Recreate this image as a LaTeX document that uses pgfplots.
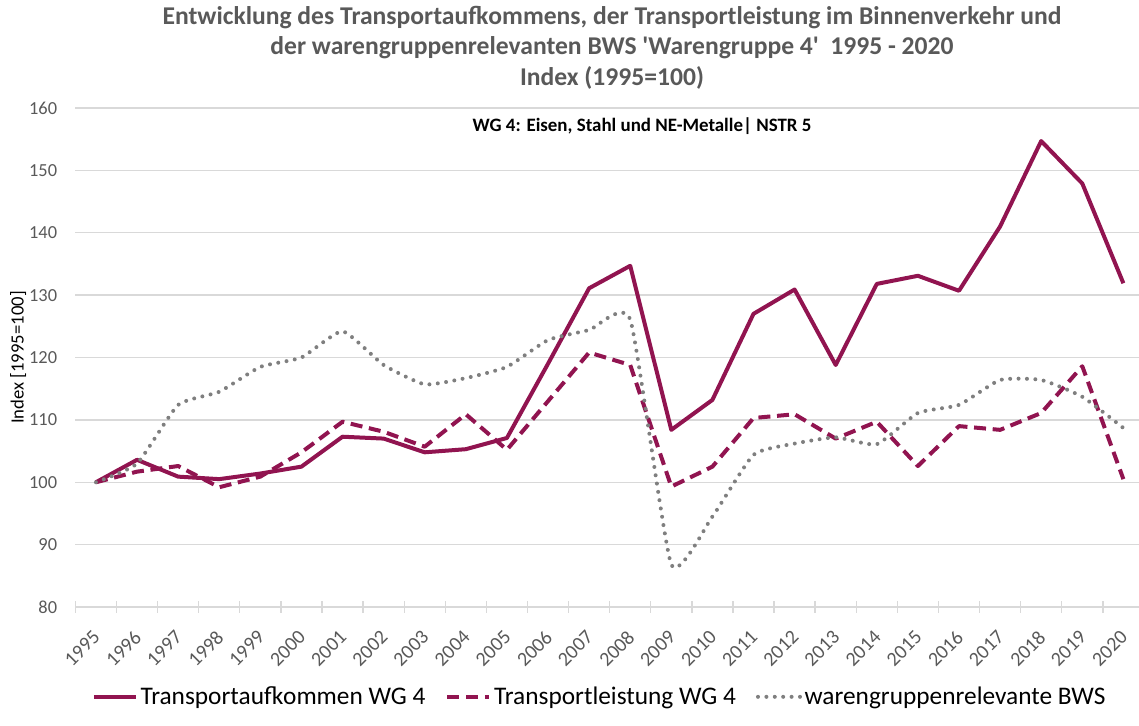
\documentclass[border=0pt]{standalone}
\usepackage{pgfplots}
\usepackage{pgfplotstable}
\pgfplotsset{compat=1.18}
\usepackage{fontspec}
\setmainfont{Carlito}
\definecolor{wine}{HTML}{911450}
\definecolor{dotgray}{HTML}{7F7F7F}
\definecolor{txtgray}{HTML}{595959}
\definecolor{gridgray}{HTML}{D9D9D9}

\pgfplotstableread{
x year aufk leist bws
0 1995 100.0 100.0 100.0
1 1996 103.6 101.7 103.0
2 1997 100.9 102.6 112.4
3 1998 100.5 99.2 114.5
4 1999 101.4 100.9 118.5
5 2000 102.5 104.8 120.0
6 2001 107.3 109.7 124.2
7 2002 107.0 108.1 118.8
8 2003 104.8 105.7 115.7
9 2004 105.3 110.9 116.7
10 2005 107.1 105.2 118.5
11 2006 119.0 113.0 122.8
12 2007 131.1 120.8 124.4
13 2008 134.7 118.8 126.1
14 2009 108.4 99.3 86.8
15 2010 113.2 102.5 94.5
16 2011 127.0 110.3 104.4
17 2012 130.9 110.9 106.2
18 2013 118.8 107.0 107.2
19 2014 131.8 109.7 106.1
20 2015 133.1 102.6 111.1
21 2016 130.7 109.0 112.4
22 2017 141.0 108.4 116.4
23 2018 154.7 111.1 116.4
24 2019 147.9 118.6 113.7
25 2020 131.9 100.5 108.7
}\datatable

\begin{document}
\begin{tikzpicture}
\begin{axis}[
  name=ax,
  at={(0,0)}, anchor=south west,
  scale only axis,
  width=798pt, height=374.25pt,
  xmin=-0.5, xmax=25.39,
  ymin=80, ymax=160,
  ytick={80,90,...,160},
  xtick={0,...,25},
  xticklabels={1995,1996,1997,1998,1999,2000,2001,2002,2003,2004,2005,2006,2007,2008,2009,2010,2011,2012,2013,2014,2015,2016,2017,2018,2019,2020},
  minor xtick={-0.5,0.5,...,24.5},
  tick pos=left,
  major tick length=0pt,
  minor tick length=8.6pt,
  xtick align=center,
  minor x tick style={gridgray, line width=1pt},
  ytick style={draw=none},
  axis line style={draw=none},
  ymajorgrids=true,
  major grid style={gridgray, line width=1.1pt},
  /pgf/number format/assume math mode=true,
  yticklabel style={font=\fontsize{13.8}{16}\selectfont, text=txtgray, inner sep=0pt, xshift=-13.5pt},
  xticklabel style={font=\fontsize{15}{17}\selectfont, text=txtgray, rotate=45, anchor=north east, inner sep=0pt, xshift=-13.8pt, yshift=-9.5pt},
  legend style={at={(0.493,-0.18)}, anchor=center, draw=none, fill=none,
    legend columns=3, font=\fontsize{19}{22}\selectfont,
    nodes={inner xsep=2pt, inner ysep=1pt},
    /tikz/every even column/.append style={column sep=13pt}},
  legend image code/.code={\draw[#1] (0pt,0pt) -- (31.5pt,0pt);},
]
\addplot[wine, line width=3pt, line join=round] table[x=x, y=aufk] {\datatable};
\addlegendentry{Transportaufkommen WG 4}
\addplot[wine, line width=3pt, line join=round, dash pattern=on 9pt off 5pt] table[x=x, y=leist] {\datatable};
\addlegendentry{Transportleistung WG 4}
\addplot[dotgray, line width=3pt, line cap=round, dash pattern=on 0pt off 6.3pt, smooth, tension=0.3] table[x=x, y=bws] {\datatable};
\addlegendentry{warengruppenrelevante BWS}
\end{axis}
\node[font=\bfseries\fontsize{19.2}{22.8}\selectfont, text=txtgray, align=center]
  at ([shift={(402.5pt,45.2pt)}]ax.north west)
  {Entwicklung des Transportaufkommens, der Transportleistung im Binnenverkehr und\\
   der warengruppenrelevanten BWS \textquotesingle Warengruppe 4\textquotesingle\ \ 1995 - 2020\\
   Index (1995=100)};
\node[font=\bfseries\fontsize{14.2}{16}\selectfont, text=black]
  at ([shift={(425pt,-13.5pt)}]ax.north west)
  {WG 4: Eisen, Stahl und NE-Metalle| NSTR 5};
\node[font=\fontsize{14}{16}\selectfont, text=black, rotate=90]
  at ([shift={(-43pt,0pt)}]ax.west)
  {Index [1995=100]};
\pgfresetboundingbox
\path (ax.south west) ++(-56.55pt,-88.5pt) rectangle ++(854.25pt,543.75pt);
\end{tikzpicture}
\end{document}
